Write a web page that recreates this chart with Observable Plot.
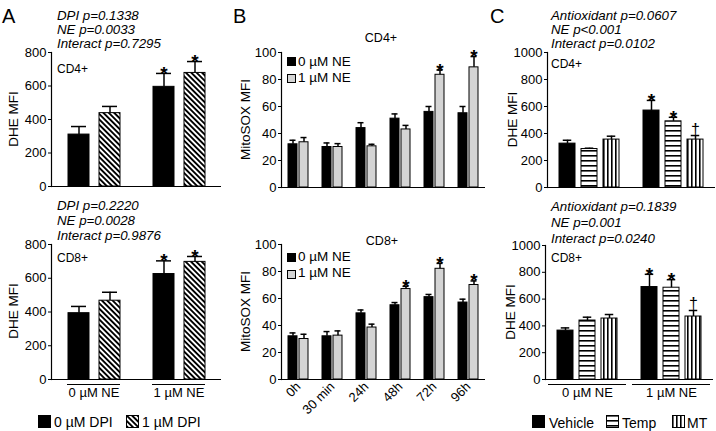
<!DOCTYPE html>
<html><head><meta charset="utf-8">
<script src="https://cdn.jsdelivr.net/npm/d3@7"></script>
<script src="https://cdn.jsdelivr.net/npm/@observablehq/plot@0.6"></script>
<style>
body{margin:0;background:#fff;}
#root{position:relative;width:716px;height:431px;overflow:hidden;background:#fff;font-family:"Liberation Sans",Arial,sans-serif;}
#root svg{position:absolute;}
</style></head><body>
<div id="root"></div>
<script>
// ---------- categories ----------
const neGroups = ["0 µM NE", "1 µM NE"];
const dpiSeries = ["0 µM DPI", "1 µM DPI"];
const timeGroups = ["0h", "30 min", "24h", "48h", "72h", "96h"];
const neSeries = ["0 µM NE", "1 µM NE"];
const antioxSeries = ["Vehicle", "Temp", "MT"];

// ---------- Panel A: DHE MFI (rows = DPI series, cols = NE group) ----------
const aCD4Mean = [[310, 595], [438, 678]];
const aCD4Err  = [[48, 80], [40, 68]];
const aCD4Sig  = [["", "*"], ["", "*"]];
const aCD8Mean = [[393, 625], [467, 697]];
const aCD8Err  = [[40, 78], [50, 32]];
const aCD8Sig  = [["", "*"], ["", "*"]];
const aTicks = [0, 200, 400, 600, 800];
const aStats4 = ["DPI p=0.1338", "NE p=0.0033", "Interact p=0.7295"];
const aStats8 = ["DPI p=0.2220", "NE p=0.0028", "Interact p=0.9876"];

// ---------- Panel B: MitoSOX MFI (rows = NE series, cols = time) ----------
const bCD4Mean = [[32, 30, 44, 51, 56, 55], [33.5, 30, 30.5, 43, 83.5, 89]];
const bCD4Err  = [[3, 3, 4, 3.5, 4, 5], [3.5, 2.5, 1.5, 3, 3.5, 8]];
const bCD4Sig  = [["", "", "", "", "", ""], ["", "", "", "", "*", "*"]];
const bCD8Mean = [[32, 32, 49, 55, 61, 57], [30, 32.5, 38.5, 67, 82, 70]];
const bCD8Err  = [[2.5, 3.5, 2.5, 2, 2, 2.5], [3.5, 3.5, 2.5, 2, 4, 3]];
const bCD8Sig  = [["", "", "", "", "", ""], ["", "", "", "*", "*", "*"]];
const bTicks = [0, 20, 40, 60, 80, 100];

// ---------- Panel C: DHE MFI (rows = antioxidant, cols = NE group) ----------
const cCD4Mean = [[325, 570], [285, 490], [355, 355]];
const cCD4Err  = [[25, 75], [6, 30], [25, 30]];
const cCD4Sig  = [["", "*"], ["", "*"], ["", "†"]];
const cCD8Mean = [[365, 690], [440, 685], [455, 470]];
const cCD8Err  = [[20, 95], [25, 60], [30, 45]];
const cCD8Sig  = [["", "*"], ["", "*"], ["", "†"]];
const cTicks = [0, 200, 400, 600, 800, 1000];
const cStats4 = ["Antioxidant p=0.0607", "NE p<0.001", "Interact p=0.0102"];
const cStats8 = ["Antioxidant p=0.1839", "NE p=0.001", "Interact p=0.0240"];

const FONT = '"Liberation Sans", Arial, sans-serif';
const root = d3.select("#root");

// overlay svg: pattern defs + annotation text
const ov = root.append("svg").attr("width", 716).attr("height", 431)
  .style("left", "0px").style("top", "0px").style("pointer-events", "none")
  .style("font-family", FONT);
const defs = ov.append("defs");
function pat(id, w, h, transform, rect) {
  const p = defs.append("pattern").attr("id", id).attr("patternUnits", "userSpaceOnUse")
    .attr("width", w).attr("height", h);
  if (transform) p.attr("patternTransform", transform);
  p.append("rect").attr("width", w).attr("height", h).attr("fill", "white");
  p.append("rect").attr("x", rect[0]).attr("y", rect[1]).attr("width", rect[2]).attr("height", rect[3]).attr("fill", "black");
}
pat("hatchDiag", 3.8, 8, "rotate(-45)", [0, 0, 1.9, 8]);
pat("hatchH", 6, 5, null, [0, 0, 6, 1.6]);
pat("hatchV", 4, 6, null, [0, 0, 1.6, 6]);

function panel(o) {
  const rows = [];
  o.groups.forEach((g, gi) => o.series.forEach((s, si) => rows.push({
    group: g, series: s, mean: o.mean[si][gi], top: o.mean[si][gi] + o.err[si][gi], sig: o.sig[si][gi]
  })));
  const marks = [
    Plot.barY(rows, {fx: "group", x: "series", y: "mean", fill: "series", stroke: "black", strokeWidth: 1}),
    Plot.ruleX(rows, {fx: "group", x: "series", y1: "mean", y2: "top", stroke: "black", strokeWidth: 1.5}),
    Plot.tickY(rows, {fx: "group", x: "series", y: "top", stroke: "black", strokeWidth: 1.5, insetLeft: o.cap, insetRight: o.cap}),
    Plot.text(rows.filter(d => d.sig === "*"), {fx: "group", x: "series", y: "top", text: "sig", lineAnchor: "bottom", dy: 6.5, fontSize: 19, fontWeight: "bold"}),
    Plot.text(rows.filter(d => d.sig === "†"), {fx: "group", x: "series", y: "top", text: "sig", lineAnchor: "bottom", dy: -1, fontSize: 16}),
    Plot.ruleY([0], {stroke: "black", strokeWidth: 1.2}),
    Plot.frame({anchor: "left", facetAnchor: "left", stroke: "black", strokeWidth: 1.2})
  ];
  if (o.groupLine != null) marks.push(Plot.ruleY([0], {dy: 5, insetLeft: o.groupLine, insetRight: o.groupLine, stroke: "black", strokeWidth: 1.2}));
  const fx = Object.assign({domain: o.groups, padding: 0, label: null}, o.fxAxis || {axis: null});
  const svg = Plot.plot({
    width: o.w, height: o.h,
    marginLeft: o.ml, marginRight: o.mr, marginTop: o.mt, marginBottom: o.mb,
    style: {fontFamily: FONT, fontSize: "13px", color: "black", background: "transparent", overflow: "visible"},
    fx,
    x: {domain: o.series, paddingInner: o.pi, paddingOuter: o.po, axis: null},
    y: {domain: [0, o.yMax], ticks: o.ticks, tickFormat: d3.format("d"), tickSize: 3, tickPadding: 2, label: null},
    color: {domain: o.series, range: o.fills},
    marks
  });
  svg.style.left = o.left + "px";
  svg.style.top = o.top + "px";
  root.node().appendChild(svg);
}

const aFills = ["black", "url(#hatchDiag)"];
const bFills = ["black", "#d4d4d4"];
const cFills = ["black", "url(#hatchH)", "url(#hatchV)"];

// A
panel({groups: neGroups, series: dpiSeries, fills: aFills, mean: aCD4Mean, err: aCD4Err, sig: aCD4Sig, yMax: 800, ticks: aTicks,
  left: 0, top: 0, w: 230, h: 200, ml: 51, mr: 9, mt: 52, mb: 14, pi: 0.333, po: 0.516, cap: 3});
panel({groups: neGroups, series: dpiSeries, fills: aFills, mean: aCD8Mean, err: aCD8Err, sig: aCD8Sig, yMax: 800, ticks: aTicks,
  left: 0, top: 200, w: 230, h: 231, ml: 51, mr: 9, mt: 44, mb: 52, pi: 0.333, po: 0.516, cap: 3, groupLine: 16,
  fxAxis: {tickSize: 0, tickPadding: 8}});
// B
panel({groups: timeGroups, series: neSeries, fills: bFills, mean: bCD4Mean, err: bCD4Err, sig: bCD4Sig, yMax: 100, ticks: bTicks,
  left: 230, top: 0, w: 260, h: 200, ml: 50, mr: 4, mt: 52, mb: 13, pi: 0.167, po: 0.528, cap: 1.5});
panel({groups: timeGroups, series: neSeries, fills: bFills, mean: bCD8Mean, err: bCD8Err, sig: bCD8Sig, yMax: 100, ticks: bTicks,
  left: 230, top: 200, w: 260, h: 231, ml: 50, mr: 4, mt: 44, mb: 52, pi: 0.167, po: 0.528, cap: 1.5,
  fxAxis: {tickSize: 0, tickPadding: 5, tickRotate: -45}});
// C
panel({groups: neGroups, series: antioxSeries, fills: cFills, mean: cCD4Mean, err: cCD4Err, sig: cCD4Sig, yMax: 1000, ticks: cTicks,
  left: 490, top: 0, w: 226, h: 200, ml: 56, mr: 1, mt: 52, mb: 13, pi: 0.267, po: 0.511, cap: 3.75});
panel({groups: neGroups, series: antioxSeries, fills: cFills, mean: cCD8Mean, err: cCD8Err, sig: cCD8Sig, yMax: 1000, ticks: cTicks,
  left: 490, top: 200, w: 226, h: 231, ml: 54, mr: 3, mt: 45, mb: 52, pi: 0.267, po: 0.511, cap: 3.75, groupLine: 3,
  fxAxis: {tickSize: 0, tickPadding: 8}});

// move overlay on top
root.node().appendChild(ov.node());

function txt(x, y, t, o = {}) {
  const e = ov.append("text").text(t)
    .attr("font-size", o.size || 13).attr("fill", "black")
    .attr("text-anchor", o.anchor || "start");
  if (o.italic) e.attr("font-style", "italic");
  if (o.rotate) e.attr("transform", `translate(${x},${y}) rotate(${o.rotate})`);
  else e.attr("x", x).attr("y", y);
}
// panel letters
txt(2, 23, "A", {size: 20}); txt(233, 23, "B", {size: 20}); txt(490, 23, "C", {size: 20});
// A stats
aStats4.forEach((s, i) => txt(57, 20 + 14 * i, s, {italic: true, size: 13.3}));
txt(57, 73, "CD4+", {size: 12});
aStats8.forEach((s, i) => txt(57, 210 + 15 * i, s, {italic: true, size: 13.3}));
txt(57, 262, "CD8+", {size: 12});
// C stats
cStats4.forEach((s, i) => txt(551, 20 + 14 * i, s, {italic: true, size: 13.3}));
txt(551, 68, "CD4+", {size: 12});
cStats8.forEach((s, i) => txt(551, 211 + 16 * i, s, {italic: true, size: 13.3}));
txt(551, 262, "CD8+", {size: 12});
// B titles
txt(381, 42, "CD4+", {size: 12.5, anchor: "middle"});
txt(382, 245, "CD8+", {size: 12.5, anchor: "middle"});
// axis titles
txt(18, 119, "DHE MFI", {size: 13.5, anchor: "middle", rotate: -90});
txt(18, 311, "DHE MFI", {size: 13.5, anchor: "middle", rotate: -90});
txt(250, 119.5, "MitoSOX MFI", {size: 13.5, anchor: "middle", rotate: -90});
txt(250, 311.5, "MitoSOX MFI", {size: 13.5, anchor: "middle", rotate: -90});
txt(517, 119.5, "DHE MFI", {size: 13.5, anchor: "middle", rotate: -90});
txt(515, 312, "DHE MFI", {size: 13.5, anchor: "middle", rotate: -90});

function sw(x, y, s, fill) {
  ov.append("rect").attr("x", x + 0.5).attr("y", y + 0.5).attr("width", s).attr("height", s)
    .attr("fill", fill).attr("stroke", "black").attr("stroke-width", 1);
}
// B legends
[[57, 66], [253, 261]].forEach(([sy, ty]) => {
  neSeries.forEach((s, i) => {
    sw(287, sy + 17 * i, 8, bFills[i]);
    txt(298, ty + 16 * i, s, {size: 13.5});
  });
});
// A legend
sw(38, 415, 12, aFills[0]); txt(54, 427, dpiSeries[0], {size: 14});
sw(126, 415, 12, aFills[1]); txt(142, 427, dpiSeries[1], {size: 14});
// C legend
const cx = [532, 606, 672], ctx = [549, 622, 687];
antioxSeries.forEach((s, i) => { sw(cx[i], 415, 12, cFills[i]); txt(ctx[i], 428, s, {size: 14}); });
</script>
</body></html>
